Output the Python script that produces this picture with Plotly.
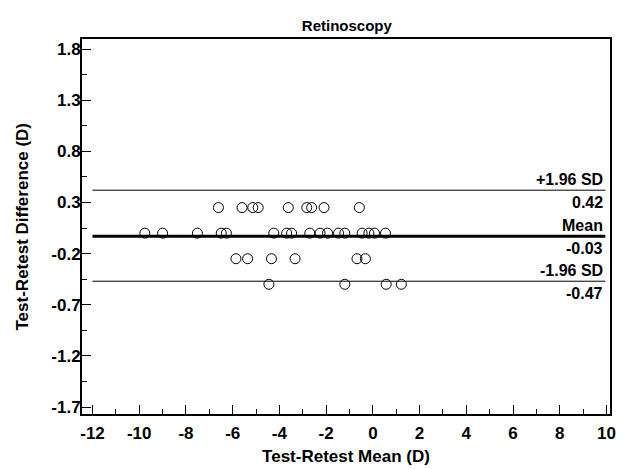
import plotly.graph_objects as go

# Data (Bland-Altman: test-retest mean vs difference)
mean_d = [-6.61, -5.60, -5.14, -4.91, -3.62, -2.83, -2.62, -2.09, -0.58,
          -9.76, -9.00, -7.51, -6.49, -6.27, -4.24, -3.69, -3.48, -2.70,
          -2.26, -1.94, -1.47, -1.20, -0.46, -0.17, 0.07, 0.54,
          -5.86, -5.36, -4.34, -3.33, -0.68, -0.32,
          -4.45, -1.20, 0.57, 1.22]
diff_d = [0.25] * 9 + [0.0] * 17 + [-0.25] * 6 + [-0.5] * 4

limit_values = [0.42, -0.03, -0.47]
limit_names = ["+1.96 SD", "Mean", "-1.96 SD"]
limit_widths = [1, 3, 1]
line_x = [-12, 9.95]

x_ticks = list(range(-12, 11, 2))
y_ticks = [1.8, 1.3, 0.8, 0.3, -0.2, -0.7, -1.2, -1.7]

FONT = "Liberation Sans, Arial, sans-serif"

fig = go.Figure()

for v, w in zip(limit_values, limit_widths):
    fig.add_trace(go.Scatter(x=line_x, y=[v, v], mode="lines",
                             line=dict(color="black", width=w),
                             hoverinfo="skip", showlegend=False))

fig.add_trace(go.Scatter(x=mean_d, y=diff_d, mode="markers",
                         marker=dict(symbol="circle-open", size=10,
                                     color="black", line=dict(width=1)),
                         showlegend=False))

for v, name in zip(limit_values, limit_names):
    fig.add_annotation(x=line_x[1], y=v, text=name, showarrow=False,
                       xanchor="right", yanchor="bottom", yshift=0,
                       font=dict(family=FONT, size=16, color="black", weight="bold"))
    fig.add_annotation(x=line_x[1], y=v, text=f"{v:.2f}", showarrow=False,
                       xanchor="right", yanchor="top", yshift=-2,
                       font=dict(family=FONT, size=16, color="black", weight="bold"))

# y-axis title as a rotated annotation for exact placement
fig.add_annotation(xref="paper", yref="paper", x=0, y=0.5, xshift=-60,
                   text="Test-Retest Difference (D)", textangle=-90,
                   showarrow=False, xanchor="center", yanchor="middle",
                   font=dict(family=FONT, size=17, color="black", weight="bold"))

axis_common = dict(
    showgrid=False, zeroline=False, showline=True, linecolor="black",
    linewidth=2, mirror=True, ticks="inside", tickcolor="black",
    tickwidth=1, ticklen=9, automargin=False,
    tickfont=dict(family=FONT, size=17, color="black", weight="bold"),
)

fig.update_xaxes(range=[-12.45, 10.15], tickvals=x_ticks,
                 ticktext=[str(t) for t in x_ticks], ticklabelstandoff=3,
                 minor=dict(dtick=1, tick0=-12, ticks="inside", ticklen=5,
                            tickcolor="black", tickwidth=1),
                 title=dict(text="Test-Retest Mean (D)", standoff=8,
                            font=dict(family=FONT, size=17, color="black", weight="bold")),
                 **axis_common)
fig.update_yaxes(range=[-1.768, 1.898], tickvals=y_ticks,
                 ticktext=[f"{t:.1f}" for t in y_ticks], ticklabelstandoff=-4,
                 minor=dict(dtick=0.25, tick0=-1.7, ticks="inside", ticklen=5,
                            tickcolor="black", tickwidth=1),
                 **axis_common)

fig.update_layout(
    width=625, height=469,
    margin=dict(l=82, r=15, t=39, b=55),
    plot_bgcolor="white", paper_bgcolor="white",
    title=dict(text="Retinoscopy", x=0.555, xanchor="center", y=0.945, yanchor="middle",
               font=dict(family=FONT, size=15, color="black", weight="bold")),
)

fig.write_html("out.html")
